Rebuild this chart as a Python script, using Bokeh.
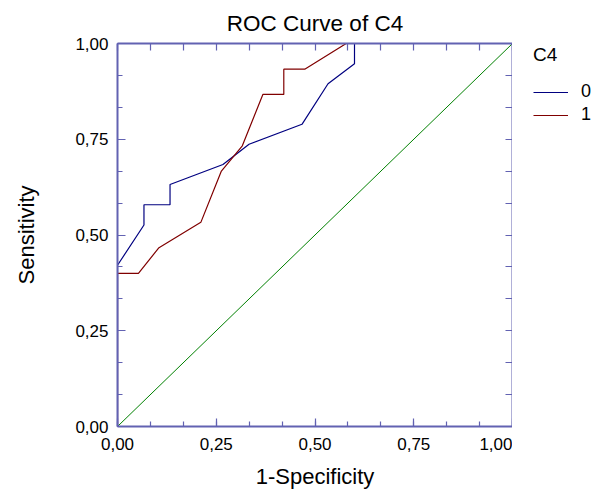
from bokeh.plotting import figure
from bokeh.layouts import row
from bokeh.models import (Range1d, FixedTicker, LinearAxis, CustomJSTickFormatter,
                          Legend, LegendItem)
from bokeh.embed import file_html
from bokeh.resources import INLINE

# ROC points for C4 = 0  (1-specificity, sensitivity)
fpr_c0 = [0.0, 0.0, 0.067, 0.067, 0.133, 0.133, 0.267, 0.333, 0.467, 0.533, 0.600, 0.600, 1.0]
tpr_c0 = [0.0, 0.421, 0.526, 0.579, 0.579, 0.632, 0.684, 0.737, 0.789, 0.895, 0.947, 1.0, 1.0]

# ROC points for C4 = 1
fpr_c1 = [0.0, 0.0, 0.053, 0.105, 0.211, 0.263, 0.316, 0.368, 0.421, 0.421, 0.474, 0.579, 1.0]
tpr_c1 = [0.0, 0.400, 0.400, 0.467, 0.533, 0.667, 0.733, 0.867, 0.867, 0.933, 0.933, 1.0, 1.0]

# chance diagonal
diag_x = [0.0, 1.0]
diag_y = [0.0, 1.0]

groups = ["0", "1"]
group_colors = ["#000080", "#800000"]
group_fpr = [fpr_c0, fpr_c1]
group_tpr = [tpr_c0, tpr_c1]

major_ticks = [0.0, 0.25, 0.5, 0.75, 1.0]
minor_ticks = [i / 12 for i in range(13)]

FONT = "Liberation Sans"
AXIS_COLOR = "#6262b2"

p = figure(frame_width=395, frame_height=383, output_backend="svg", toolbar_location=None,
           x_range=Range1d(0, 1), y_range=Range1d(0, 1),
           min_border_left=117, min_border_right=0,
           min_border_top=43, min_border_bottom=64)
p.grid.visible = False
p.outline_line_color = None
p.background_fill_color = "white"
p.border_fill_color = "white"

p.title.text = "ROC Curve of C4"
p.title.align = "center"
p.title.text_font = FONT
p.title.text_font_size = "22.5px"
p.title.text_font_style = "normal"
p.title.text_color = "black"
p.title.standoff = 16

fmt = CustomJSTickFormatter(code="return tick.toFixed(2).replace('.', ',');")

def style_line(ax):
    ax.axis_line_color = AXIS_COLOR
    ax.axis_line_width = 2
    ax.major_tick_line_color = AXIS_COLOR
    ax.minor_tick_line_color = AXIS_COLOR
    ax.major_tick_line_width = 1.2
    ax.minor_tick_line_width = 1.2
    ax.major_tick_out = 0
    ax.minor_tick_out = 0

# labelled bottom / left axes
for ax in (p.xaxis[0], p.yaxis[0]):
    style_line(ax)
    ax.ticker = FixedTicker(ticks=major_ticks, minor_ticks=minor_ticks)
    ax.major_tick_in = 8
    ax.minor_tick_in = 5
    ax.formatter = fmt
    ax.major_label_text_font = FONT
    ax.major_label_text_font_size = "17px"
    ax.major_label_text_color = "black"
    ax.axis_label_text_font = FONT
    ax.axis_label_text_font_size = "22px"
    ax.axis_label_text_font_style = "normal"
    ax.axis_label_text_color = "black"

p.xaxis[0].axis_label = "1-Specificity"
p.yaxis[0].axis_label = "Sensitivity"
p.xaxis[0].major_label_standoff = 11
p.xaxis[0].axis_label_standoff = 11
p.yaxis[0].major_label_standoff = 9
p.yaxis[0].axis_label_standoff = 33

# unlabelled top / right axes: tick marks only
for side in ("above", "right"):
    ax = LinearAxis(ticker=FixedTicker(ticks=[], minor_ticks=minor_ticks))
    style_line(ax)
    ax.minor_tick_in = 7
    ax.major_tick_in = 7
    p.add_layout(ax, side)

p.line(diag_x, diag_y, line_color="#008000", line_width=1)
for fpr, tpr, color in zip(group_fpr, group_tpr, group_colors):
    p.line(fpr, tpr, line_color=color, line_width=1.2)

# legend panel to the right of the plot; its ranges sit away from the
# curves so only the legend itself shows
lg = figure(width=81, height=490, output_backend="svg", toolbar_location=None,
            x_range=Range1d(5, 6), y_range=Range1d(5, 6),
            min_border=0, outline_line_color=None)
lg.axis.visible = False
lg.grid.visible = False
items = []
for name, fpr, tpr, color in zip(groups, group_fpr, group_tpr, group_colors):
    r = lg.line(fpr, tpr, line_color=color, line_width=1.2)
    items.append(LegendItem(label=name, renderers=[r]))

legend = Legend(items=items, location=(21, 300), title="C4",
                title_text_font=FONT, title_text_font_size="19px",
                title_text_font_style="normal", title_text_color="black",
                title_standoff=15,
                label_text_font=FONT, label_text_font_size="18px",
                label_text_color="black",
                glyph_width=35, glyph_height=20, label_standoff=13,
                label_height=20, spacing=2, padding=0, margin=0,
                border_line_color=None, background_fill_alpha=0)
lg.add_layout(legend)

layout = row(p, lg)
open("out.html", "w").write(file_html(layout, INLINE))
